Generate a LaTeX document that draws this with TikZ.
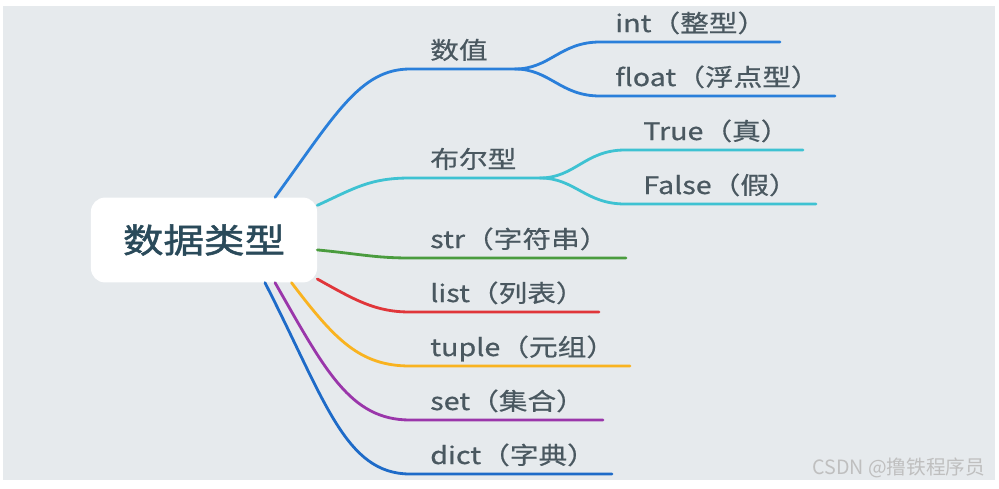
\documentclass[tikz,border=0pt]{standalone}
\usepackage{fontspec}
\setmainfont{Noto Sans CJK SC}[FakeStretch=1.2, FakeBold=0.6]
\newfontfamily\rootfont{Noto Sans CJK SC}[FakeStretch=1.2, FakeBold=1.6]
\newfontfamily\markfont{Noto Sans CJK SC}
\usepackage{xcolor}
\usepackage{tikz}
\usetikzlibrary{positioning,calc}

\definecolor{bgray}{HTML}{E6EAED}
\definecolor{txtgray}{HTML}{4A5860}
\definecolor{roottxt}{HTML}{2A4A5A}
\definecolor{cnum}{HTML}{2A7FDA}
\definecolor{cbool}{HTML}{3EC2D2}
\definecolor{cstr}{HTML}{4A9C3E}
\definecolor{clist}{HTML}{E0363A}
\definecolor{ctuple}{HTML}{F9B320}
\definecolor{cset}{HTML}{9A36AA}
\definecolor{cdict}{HTML}{1E6BC8}

\begin{document}
\begin{tikzpicture}[
  x=0.025cm, y=-0.025cm,
  rootbox/.style={rectangle, rounded corners=10pt, fill=white, minimum width=5.65cm, minimum height=2.12cm, font=\rootfont\fontsize{24}{28}\selectfont, text=roottxt},
  lbl/.style={anchor=base west, inner sep=0pt, font=\fontsize{17}{20}\selectfont, text=txtgray},
  branch/.style={line width=2pt, line cap=round}
]
  \useasboundingbox (0,0) rectangle (999,488);
  \fill[bgray] (3,6) rectangle (995,480);

  % central topic
  \node[rootbox] (root) at (204,240) {数据类型};

  % branch ends
  \coordinate (num-l) at (410,69);   \coordinate (num-r) at (515,69);
  \coordinate (int-l) at (600,42);   \coordinate (int-r) at (780,42);
  \coordinate (float-l) at (600,96); \coordinate (float-r) at (835,96);
  \coordinate (bool-l) at (410,178); \coordinate (bool-r) at (540,178);
  \coordinate (true-l) at (625,150); \coordinate (true-r) at (803,150);
  \coordinate (false-l) at (625,204); \coordinate (false-r) at (816,204);
  \coordinate (str-l) at (410,258);  \coordinate (str-r) at (626,258);
  \coordinate (list-l) at (410,312); \coordinate (list-r) at (599,312);
  \coordinate (tuple-l) at (410,366); \coordinate (tuple-r) at (630,366);
  \coordinate (set-l) at (410,420);  \coordinate (set-r) at (603,420);
  \coordinate (dict-l) at (410,474); \coordinate (dict-r) at (612,474);

  % labels
  \node[lbl] (num) at (430,59) {数值};
  \node[lbl] (int) at (615,32) {int（整型）};
  \node[lbl] (float) at (615,86) {float（浮点型）};
  \node[lbl] (bool) at (430,168) {布尔型};
  \node[lbl] (true) at (643,140) {True（真）};
  \node[lbl] (false) at (643,194) {False（假）};
  \node[lbl] (str) at (430,248) {str（字符串）};
  \node[lbl] (list) at (430,302) {list（列表）};
  \node[lbl] (tuple) at (430,356) {tuple（元组）};
  \node[lbl] (set) at (430,410) {set（集合）};
  \node[lbl] (dict) at (430,464) {dict（字典）};

  % numbers
  \draw[branch, cnum] (root.31) .. controls (335,115) and (360,69) .. (num-l) -- (num-r);
  \draw[branch, cnum] (num-r) .. controls (550,69) and (560,42) .. (int-l) -- (int-r);
  \draw[branch, cnum] (num-r) .. controls (550,69) and (560,96) .. (float-l) -- (float-r);

  % booleans
  \draw[branch, cbool] (root.17) .. controls (355,188) and (370,178) .. (bool-l) -- (bool-r);
  \draw[branch, cbool] (bool-r) .. controls (575,178) and (585,150) .. (true-l) -- (true-r);
  \draw[branch, cbool] (bool-r) .. controls (575,178) and (585,204) .. (false-l) -- (false-r);

  % the rest
  \draw[branch, cstr] (root.-5) .. controls (360,254) and (375,258) .. (str-l) -- (str-r);
  \draw[branch, clist] (root.-19) .. controls (355,300) and (375,312) .. (list-l) -- (list-r);
  \draw[branch, ctuple] (root.-26) .. controls (335,340) and (360,366) .. (tuple-l) -- (tuple-r);
  \draw[branch, cset] (root.-31) .. controls (325,370) and (350,420) .. (set-l) -- (set-r);
  \draw[branch, cdict] (root.-35) .. controls (325,400) and (345,474) .. (dict-l) -- (dict-r);

  \node[anchor=base west, inner sep=0pt, font=\markfont\fontsize{14}{16}\selectfont, text=black!25] (mark) at (812,474) {CSDN @撸铁程序员};
\end{tikzpicture}
\end{document}
